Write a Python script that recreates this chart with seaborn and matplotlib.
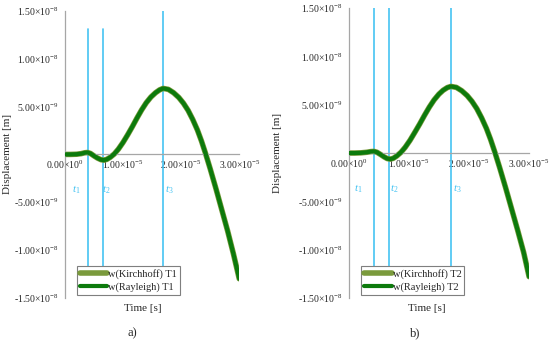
import numpy as np
import pandas as pd
import matplotlib
matplotlib.use("Agg")
import matplotlib.pyplot as plt
import seaborn as sns

# time axis in units of 1e-5 s, displacement in units of 1e-9 m
time_a = [0.0, 0.1, 0.2, 0.28, 0.34, 0.39, 0.44, 0.50, 0.56, 0.62, 0.67, 0.72, 0.78, 0.85,
          0.92, 1.00, 1.08, 1.16, 1.24, 1.32, 1.40, 1.48, 1.56, 1.63, 1.69, 1.78, 1.87,
          1.96, 2.04, 2.12, 2.20, 2.28, 2.35, 2.42, 2.50, 2.60, 2.70, 2.80, 2.90, 3.00]
kirch_a = [0.0, 0.0, 0.02, 0.08, 0.17, 0.2, 0.1, -0.15, -0.38, -0.55, -0.6, -0.52, -0.3, 0.05,
           0.55, 1.25, 2.05, 2.9, 3.8, 4.65, 5.4, 6.0, 6.45, 6.75, 6.9, 6.8, 6.45,
           5.95, 5.35, 4.6, 3.65, 2.55, 1.4, 0.1, -1.5, -3.6, -5.8, -8.0, -10.4, -13.0]
rayl_a = [0.0, 0.0, 0.02, 0.08, 0.17, 0.2, 0.1, -0.15, -0.38, -0.55, -0.6, -0.52, -0.3, 0.05,
          0.55, 1.25, 2.05, 2.9, 3.8, 4.65, 5.4, 6.0, 6.45, 6.75, 6.9, 6.8, 6.45,
          5.95, 5.35, 4.6, 3.65, 2.55, 1.4, 0.1, -1.5, -3.6, -5.8, -8.0, -10.4, -13.0]

time_b = [0.0, 0.1, 0.2, 0.30, 0.37, 0.42, 0.47, 0.53, 0.59, 0.64, 0.69, 0.74, 0.80, 0.87,
          0.94, 1.02, 1.10, 1.18, 1.26, 1.34, 1.42, 1.50, 1.57, 1.64, 1.70, 1.79, 1.88,
          1.97, 2.05, 2.13, 2.21, 2.29, 2.36, 2.43, 2.51, 2.61, 2.71, 2.81, 2.91, 3.00]
kirch_b = [0.0, 0.0, 0.02, 0.08, 0.15, 0.17, 0.08, -0.15, -0.4, -0.57, -0.63, -0.55, -0.3, 0.08,
           0.6, 1.32, 2.15, 3.0, 3.9, 4.75, 5.5, 6.1, 6.5, 6.78, 6.9, 6.8, 6.45,
           5.95, 5.35, 4.6, 3.65, 2.55, 1.4, 0.1, -1.5, -3.6, -5.8, -8.0, -10.3, -12.8]
rayl_b = [0.0, 0.0, 0.02, 0.08, 0.15, 0.17, 0.08, -0.15, -0.4, -0.57, -0.63, -0.55, -0.3, 0.08,
          0.6, 1.32, 2.15, 3.0, 3.9, 4.75, 5.5, 6.1, 6.5, 6.78, 6.9, 6.8, 6.45,
          5.95, 5.35, 4.6, 3.65, 2.55, 1.4, 0.1, -1.5, -3.6, -5.8, -8.0, -10.3, -12.8]

# marker times t1, t2, t3 (1e-5 s) and their line tops (1e-9 m)
marks_a = [0.39, 0.65, 1.68]
tops_a = [13.1, 13.1, 15.0]
marks_b = [0.42, 0.67, 1.70]
tops_b = [15.0, 15.0, 15.0]

x_ticks = [0.0, 1.0, 2.0, 3.0]
x_labels = [r"0.00$\times$10$^{0}$", r"1.00$\times$10$^{-5}$",
            r"2.00$\times$10$^{-5}$", r"3.00$\times$10$^{-5}$"]
y_ticks = [-15, -10, -5, 0, 5, 10, 15]
y_labels = [r"-1.50$\times$10$^{-8}$", r"-1.00$\times$10$^{-8}$", r"-5.00$\times$10$^{-9}$", "",
            r"5.00$\times$10$^{-9}$", r"1.00$\times$10$^{-8}$", r"1.50$\times$10$^{-8}$"]

KIRCH = "#7a9a3c"
RAYL = "#0c7a0c"
MARK = "#45c3f2"
AXIS = "#a6a6a6"

sns.set_style("white")
plt.rcParams["font.family"] = ["Liberation Serif", "DejaVu Serif"]
plt.rcParams["mathtext.fontset"] = "custom"
plt.rcParams["mathtext.rm"] = "Liberation Serif"
plt.rcParams["mathtext.it"] = "Liberation Serif:style=italic"


def draw_panel(ax, t, kirch, rayl, marks, tops, tag, label_offsets, ylab_x, xlab_x):
    df = pd.DataFrame({"t": t, "k": kirch, "r": rayl})
    for m, top in zip(marks, tops):
        ax.plot([m, m], [-13.0, top], color=MARK, lw=1.2, zorder=1)
    for i, (m, off) in enumerate(zip(marks, label_offsets)):
        ax.text(m + off, -3.7, f"$\\mathit{{t}}_{{{i + 1}}}$", color=MARK, fontsize=8,
                ha="center", va="center")
    sns.lineplot(data=df, x="t", y="k", ax=ax, color=KIRCH, lw=4.0, sort=False,
                 label=f"w(Kirchhoff) {tag}", zorder=2, solid_joinstyle="round")
    sns.lineplot(data=df, x="t", y="r", ax=ax, color=RAYL, lw=3.0, sort=False,
                 label=f"w(Rayleigh) {tag}", zorder=3, solid_joinstyle="round")

    ax.set_xlim(0, 3.0)
    ax.set_ylim(-15, 15)
    ax.spines["top"].set_visible(False)
    ax.spines["right"].set_visible(False)
    ax.spines["bottom"].set_position(("data", 0))
    for s in ("left", "bottom"):
        ax.spines[s].set_color(AXIS)
        ax.spines[s].set_linewidth(0.9)
    ax.set_xticks(x_ticks, x_labels, fontsize=7)
    ax.set_yticks(y_ticks, y_labels, fontsize=7)
    ax.tick_params(axis="x", direction="in", length=3, color=AXIS, pad=3)
    ax.tick_params(axis="y", direction="out", length=2.5, color=AXIS, pad=2)
    ax.set_xlabel("")
    ax.set_ylabel("Displacement [m]", fontsize=8)
    ax.yaxis.set_label_coords(ylab_x, 0.5)
    ax.text(xlab_x, -0.038, "Time [s]", transform=ax.transAxes, fontsize=8,
            ha="center", va="center")

    leg = ax.legend(loc="lower left", bbox_to_anchor=(0.07, 0.01), fontsize=7.5,
                    frameon=True, fancybox=False, handlelength=2.6, handletextpad=0.1,
                    borderpad=0.3, labelspacing=0.35, borderaxespad=0)
    leg.get_frame().set_edgecolor("#7f7f7f")
    leg.get_frame().set_linewidth(0.8)
    leg.get_frame().set_alpha(1)
    leg.set_zorder(5)


fig = plt.figure(figsize=(5.5, 3.42), dpi=100)
ax1 = fig.add_axes([0.118, 0.129, 0.317, 0.839])
ax2 = fig.add_axes([0.634, 0.129, 0.328, 0.847])

draw_panel(ax1, time_a, kirch_a, rayl_a, marks_a, tops_a, "T1", [-0.19, 0.07, 0.11], -0.305, 0.447)
draw_panel(ax2, time_b, kirch_b, rayl_b, marks_b, tops_b, "T2", [-0.26, 0.085, 0.1], -0.37, 0.434)

fig.text(132.7 / 550, 1 - 333 / 342, "a)", fontsize=9, ha="center", va="center")
fig.text(415 / 550, 1 - 333 / 342, "b)", fontsize=9, ha="center", va="center")

fig.savefig("out.png", dpi=100)
